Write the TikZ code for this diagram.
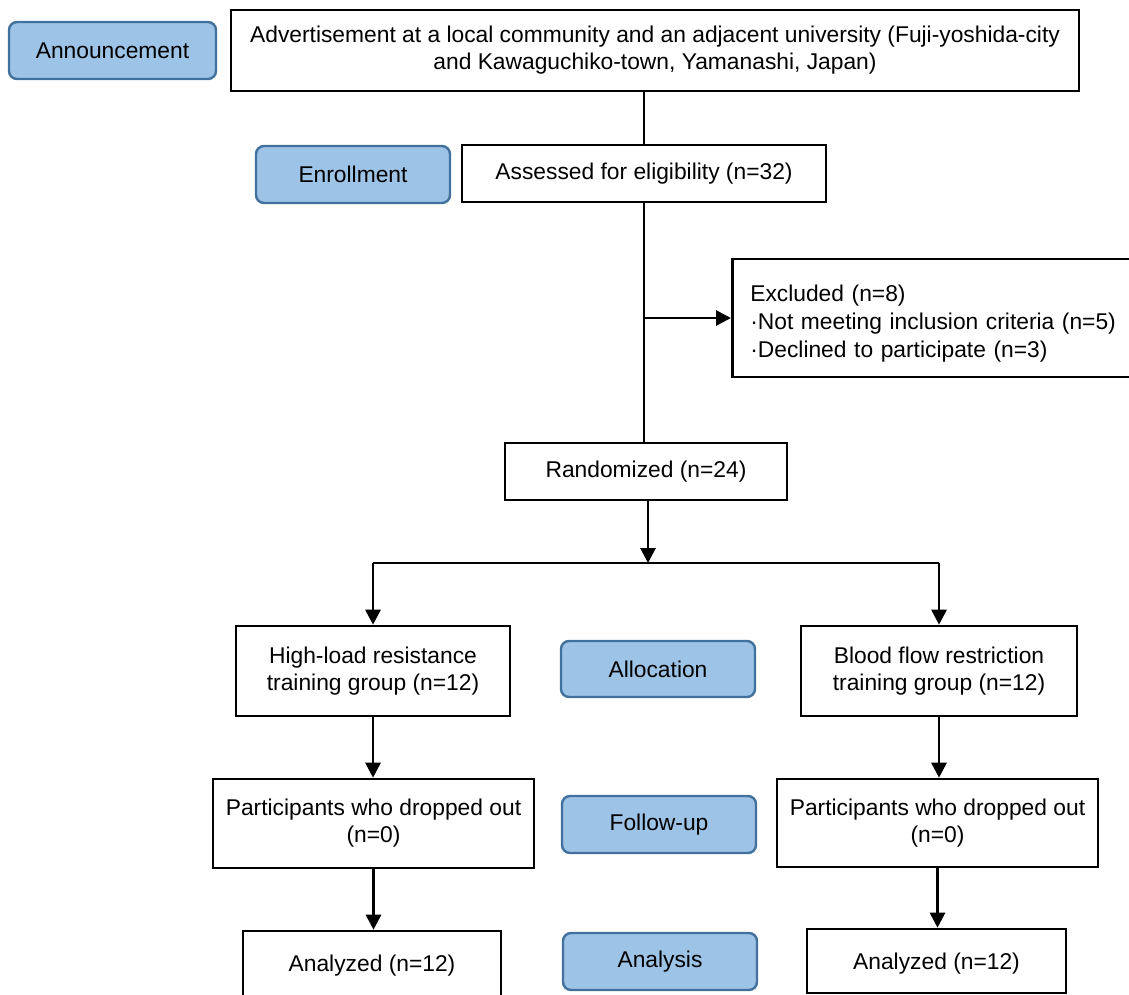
\documentclass[tikz,border=0pt]{standalone}
\usepackage{fontspec}
\setmainfont{Liberation Sans}
\usetikzlibrary{arrows.meta}
\definecolor{stagefill}{HTML}{9DC3E6}
\definecolor{stageline}{HTML}{41719C}
\begin{document}
\begin{tikzpicture}[x=1pt,y=-1pt,
  every node/.style={font=\fontsize{22.8}{27}\selectfont, inner sep=0pt},
  flowbox/.style={draw=black, line width=2.6pt, fill=white, align=center},
  stagebox/.style={draw=stageline, line width=2.4pt, fill=stagefill, rounded corners=8pt, align=center},
  conn/.style={line width=2.8pt, draw=black},
  arr/.style={conn, -{Triangle[length=15pt,width=15pt]}}]
\useasboundingbox (0,0) rectangle (1129,994);
% stage labels
\node[stagebox, minimum width=207, minimum height=57] (ann) at (112.5,50.5) {Announcement};
\node[stagebox, minimum width=194, minimum height=57] (enr) at (353,174.5) {Enrollment};
\node[stagebox, minimum width=194, minimum height=56] (alloc) at (658,669) {Allocation};
\node[stagebox, minimum width=194, minimum height=57] (fu) at (659,824.5) {Follow-up};
\node[stagebox, minimum width=194, minimum height=57] (an) at (660,961.5) {Analysis};
% flow boxes
\node[flowbox, minimum width=848, minimum height=81] (adv) at (655,50.5)
  {Advertisement at a local community and an adjacent university (Fuji-yoshida-city\\and Kawaguchiko-town, Yamanashi, Japan)};
\node[flowbox, minimum width=364, minimum height=57] (ass) at (644,173.5) {Assessed for eligibility (n=32)};
\node[flowbox, anchor=west, minimum width=410, minimum height=118, text width=374, align=left, inner xsep=18pt] (exc) at (731,318)
  {\mbox{}\\[1pt]Excluded (n=8)\\\kern1pt·Not meeting inclusion criteria (n=5)\\\kern1pt·Declined to participate (n=3)};
\node[flowbox, minimum width=282, minimum height=57] (rand) at (646,471.5) {Randomized (n=24)};
\node[flowbox, minimum width=274, minimum height=90] (hl) at (373,671) {High-load resistance\\training group (n=12)};
\node[flowbox, minimum width=276, minimum height=90] (bf) at (939,671) {Blood flow restriction\\training group (n=12)};
\node[flowbox, minimum width=321, minimum height=89] (pl) at (373.5,823.5) {Participants who dropped out\\(n=0)};
\node[flowbox, minimum width=321, minimum height=88] (pr) at (937.5,823) {Participants who dropped out\\(n=0)};
\node[flowbox, minimum width=258, minimum height=69] (al) at (372,965.5) {Analyzed (n=12)};
\node[flowbox, minimum width=259, minimum height=64] (ar) at (936.5,961) {\rule{0pt}{22pt}Analyzed (n=12)};
% connectors
\draw[conn] (ass.north |- adv.south) -- (ass.north);
\draw[conn] (ass.south) -- (ass.south |- rand.north);
\coordinate (branch) at (ass.south |- exc.west);
\draw[arr] (branch) -- (exc.west);
\coordinate (split) at (648,563);
\draw[arr] (split |- rand.south) -- (split);
\draw[conn] (hl.north |- split) -- (bf.north |- split);
\draw[arr] (hl.north |- split) -- (hl.north);
\draw[arr] (bf.north |- split) -- (bf.north);
\draw[arr] (hl.south) -- (hl.south |- pl.north);
\draw[arr] (bf.south) -- (bf.south |- pr.north);
\draw[arr] (pl.south) -- (pl.south |- al.north);
\draw[arr] (pr.south) -- (pr.south |- ar.north);
\end{tikzpicture}
\end{document}
